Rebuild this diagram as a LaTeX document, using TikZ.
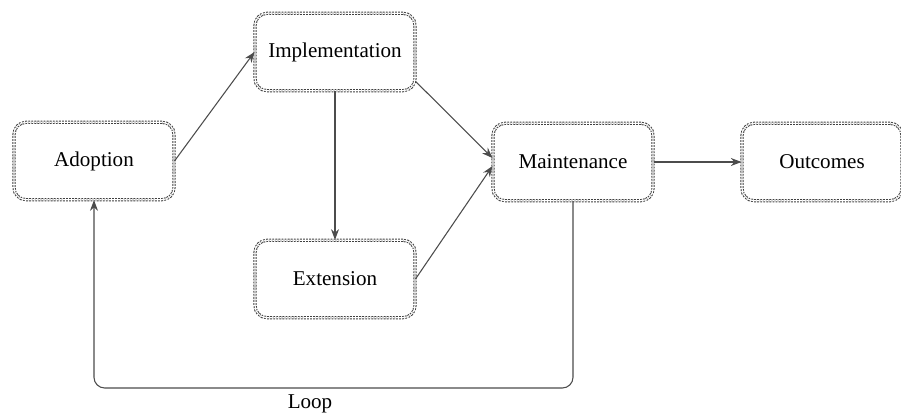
\documentclass[tikz,border=0pt]{standalone}
\usepackage{fontspec}
\setmainfont{Liberation Serif}
\usepackage{tikz}
\usetikzlibrary{arrows,arrows.meta,positioning}

\begin{document}
\begin{tikzpicture}[x=0.75pt,y=-0.75pt]
  \useasboundingbox (0,0) rectangle (901,413);
  \tikzstyle{v}=[rectangle,rounded corners=9pt,draw=black!75,double=white,double distance=0.9pt,line width=0.75pt,dash pattern=on 1.4pt off 0.9pt,minimum width=120pt,minimum height=58pt,font=\fontsize{15.8}{19}\selectfont]
  \node[v](adopt)at(94,161){Adoption};
  \node[v](impl)at(335,52){Implementation};
  \node[v](ext)at(335,279){Extension};
  \node[v](maint)at(573,162){Maintenance};
  \node[v](outc)at(822,162){Outcomes};
  \tikzstyle{e}=[-{Stealth[length=8pt,width=6pt]},draw=black!70,line width=0.8pt]
  \foreach\o/\d in{adopt.east/impl.west,impl.south/ext.north,maint.east/outc.west}{\draw[e](\o)--(\d);}
  \draw[e](impl.-20)--([yshift=3pt]maint.west);
  \draw[e](ext.east)--([yshift=-3pt]maint.west);
  % feedback loop
  \coordinate(lp)at(330,388);
  \draw[e,rounded corners=8pt](maint.south)|-(lp)-|(adopt.south);
  \node[font=\fontsize{15.8}{19}\selectfont](loop)at(310,404){Loop};
\end{tikzpicture}
\end{document}
